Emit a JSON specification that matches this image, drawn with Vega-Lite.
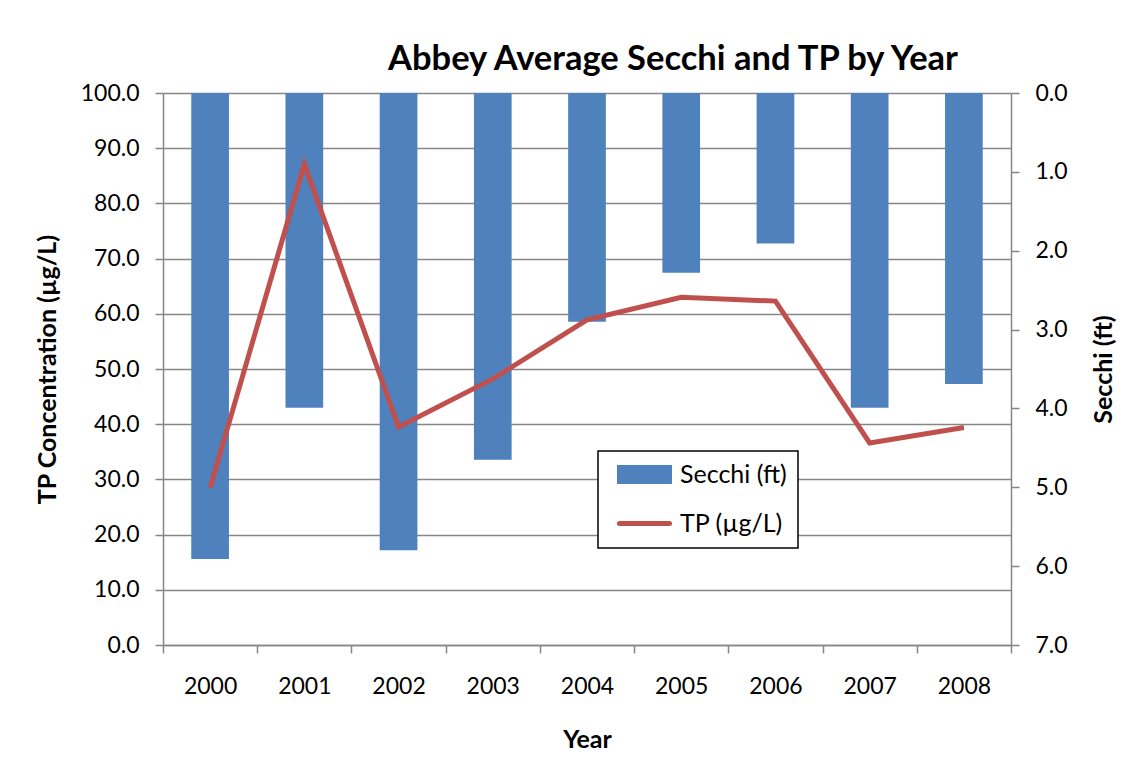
{
  "$schema": "https://vega.github.io/schema/vega-lite/v6.json",
  "width": 848,
  "height": 552,
  "autosize": {"type": "none"},
  "padding": {"left": 163, "top": 93, "right": 125, "bottom": 116},
  "background": "white",
  "title": {
    "text": "Abbey Average Secchi and TP by Year",
    "font": "Lato",
    "fontSize": 34.5,
    "fontWeight": "bold",
    "color": "black",
    "anchor": "middle",
    "frame": "group",
    "dx": 86,
    "offset": -22,
    "baseline": "alphabetic"
  },
  "data": {
    "values": [
      {"Year": "2000", "TP": 28.5, "Secchi": 5.91},
      {"Year": "2001", "TP": 87.1, "Secchi": 3.99},
      {"Year": "2002", "TP": 39.5, "Secchi": 5.80},
      {"Year": "2003", "TP": 48.2, "Secchi": 4.65},
      {"Year": "2004", "TP": 58.9, "Secchi": 2.90},
      {"Year": "2005", "TP": 63.0, "Secchi": 2.28},
      {"Year": "2006", "TP": 62.3, "Secchi": 1.91},
      {"Year": "2007", "TP": 36.6, "Secchi": 3.99},
      {"Year": "2008", "TP": 39.4, "Secchi": 3.69}
    ]
  },
  "config": {
    "font": "Lato",
    "view": {"stroke": null},
    "axis": {
      "domainColor": "#868686",
      "domainWidth": 1.5,
      "tickColor": "#868686",
      "tickWidth": 1.5,
      "gridColor": "#868686",
      "gridWidth": 1.5,
      "labelFont": "Lato",
      "labelFontSize": 23,
      "labelColor": "black",
      "titleFont": "Lato",
      "titleFontSize": 25,
      "titleFontWeight": "bold",
      "titleColor": "black"
    },
    "legend": {
      "orient": "none",
      "legendX": 435,
      "legendY": 358,
      "strokeColor": "black",
      "strokeWidth": 1.5,
      "fillColor": "white",
      "padding": 11,
      "labelFont": "Lato",
      "labelFontSize": 25,
      "labelColor": "black",
      "symbolSize": 400,
      "rowPadding": 19,
      "labelOffset": 46
    }
  },
  "layer": [
    {
      "mark": {"type": "bar", "width": {"band": 0.4}},
      "encoding": {
        "x": {
          "field": "Year",
          "type": "ordinal",
          "scale": {"paddingInner": 0, "paddingOuter": 0},
          "axis": {
            "title": "Year",
            "labelAngle": 0,
            "tickBand": "extent",
            "tickSize": 8,
            "labelPadding": 22,
            "titlePadding": 29,
            "grid": false
          }
        },
        "y": {
          "field": "Secchi",
          "type": "quantitative",
          "scale": {"domain": [0, 7], "reverse": true, "nice": false},
          "axis": {
            "orient": "right",
            "title": "Secchi (ft)",
            "titleAngle": -90,
            "format": ".1f",
            "values": [0, 1, 2, 3, 4, 5, 6, 7],
            "grid": false,
            "tickSize": 8,
            "labelPadding": 16,
            "titlePadding": 49
          }
        },
        "color": {
          "datum": "Secchi (ft)",
          "scale": {"domain": ["Secchi (ft)", "TP (µg/L)"], "range": ["#4F81BD", "#C0504D"]},
          "legend": {
            "title": null,
            "encode": {
              "symbols": {
                "update": {
                  "shape": {"signal": "datum.value === 'Secchi (ft)' ? 'M-0.2,-0.7H4.8V0.7H-0.2Z' : 'M-0.2,0H4.8'"},
                  "fill": {"signal": "datum.value === 'Secchi (ft)' ? '#4F81BD' : 'transparent'"},
                  "stroke": {"signal": "datum.value === 'Secchi (ft)' ? 'transparent' : '#C0504D'"},
                  "strokeWidth": {"value": 5},
                  "strokeCap": {"value": "round"}
                }
              }
            }
          }
        }
      }
    },
    {
      "mark": {"type": "line", "strokeWidth": 5},
      "encoding": {
        "x": {"field": "Year", "type": "ordinal"},
        "y": {
          "field": "TP",
          "type": "quantitative",
          "scale": {"domain": [0, 100], "nice": false},
          "axis": {
            "orient": "left",
            "title": "TP Concentration (µg/L)",
            "format": ".1f",
            "values": [0, 10, 20, 30, 40, 50, 60, 70, 80, 90, 100],
            "grid": true,
            "tickSize": 8,
            "labelPadding": 16,
            "titlePadding": 20
          }
        },
        "color": {"datum": "TP (µg/L)"}
      }
    }
  ],
  "resolve": {"scale": {"y": "independent"}}
}
